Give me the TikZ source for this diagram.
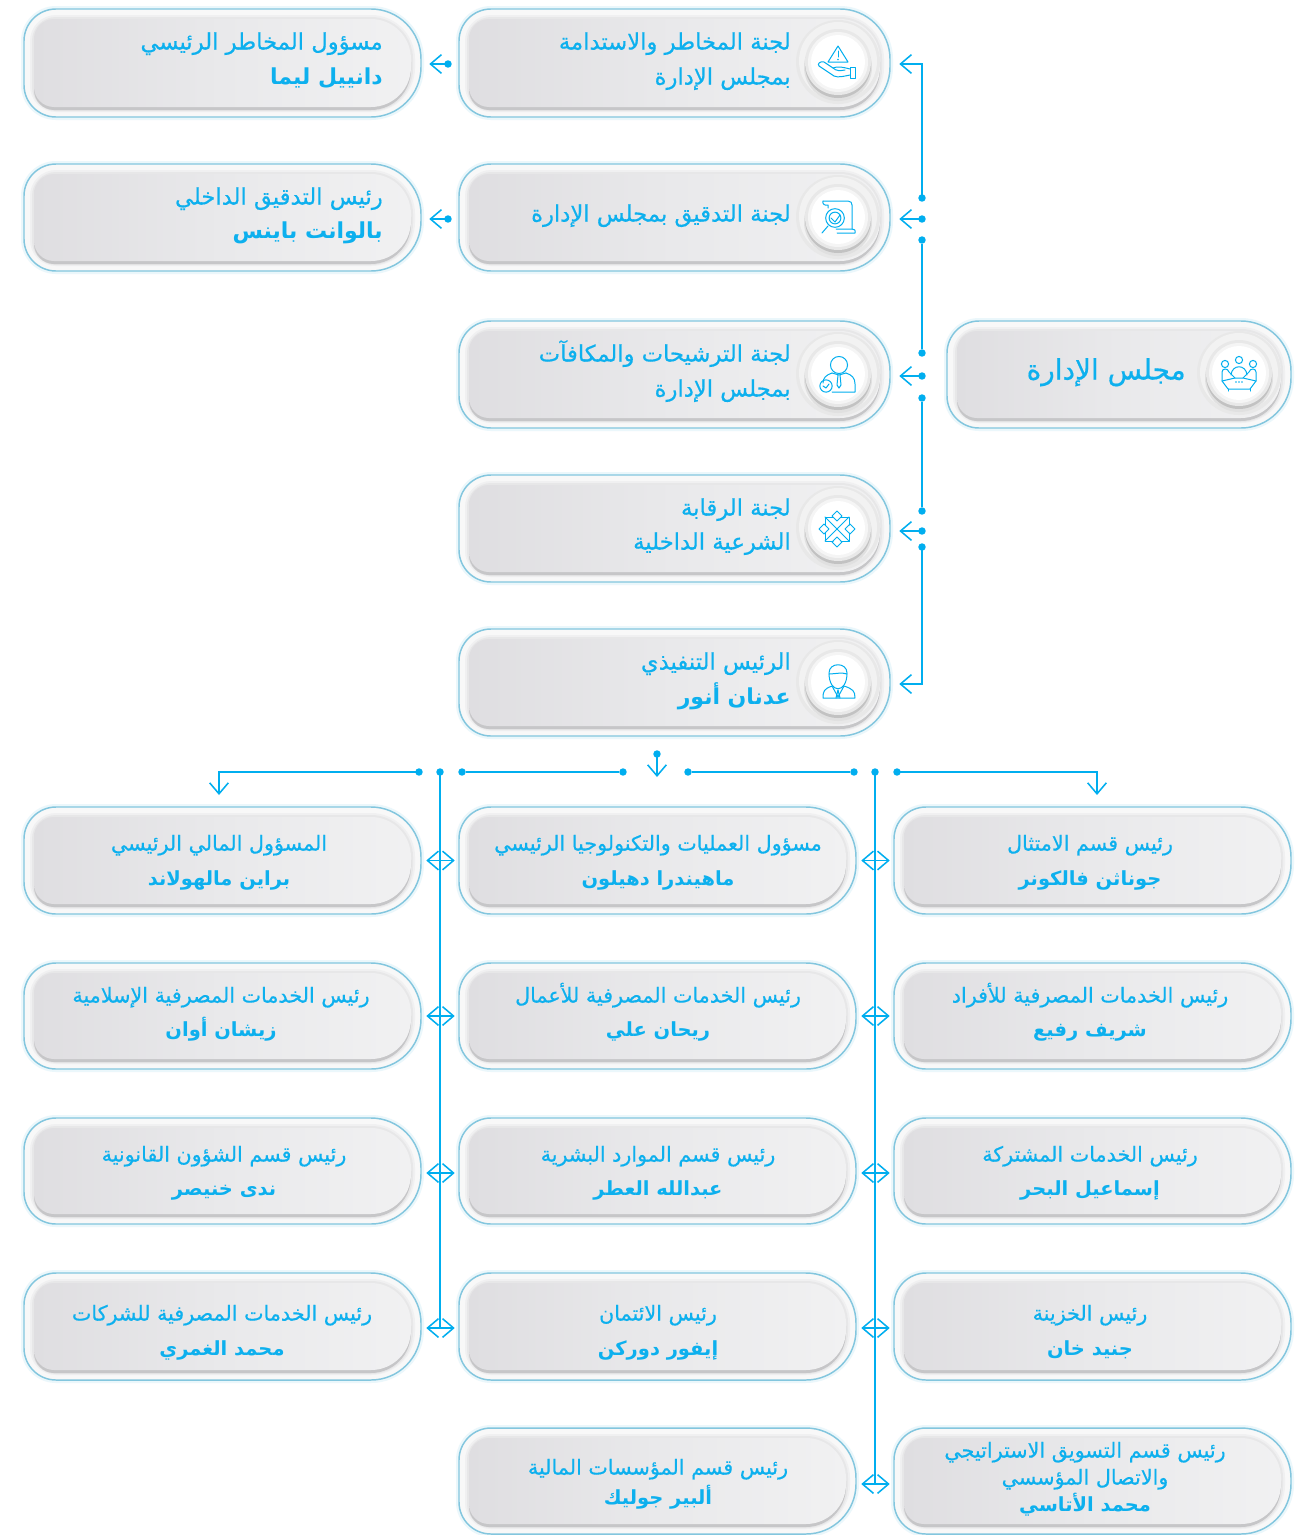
\documentclass[tikz,border=0pt]{standalone}
\usepackage{fontspec}
\usetikzlibrary{arrows.meta,calc}
\TeXXeTstate=1
\newfontfamily\arfont[Script=Arabic,FakeBold=0.5]{DejaVu Sans}
\newfontfamily\arbold[Script=Arabic]{DejaVu Sans Bold}
\definecolor{linec}{HTML}{00AEEF}
\definecolor{textc}{HTML}{0DB0EE}
\definecolor{edgec}{HTML}{83C6DE}
\definecolor{haloc}{HTML}{EBF7FB}
\definecolor{shellc}{HTML}{F8F8F8}
\definecolor{softA}{HTML}{F0F0F1}
\definecolor{softB}{HTML}{E7E7E8}
\definecolor{shadec}{HTML}{C6C6C8}
\definecolor{fillL}{HTML}{DFDEE1}
\definecolor{fillM}{HTML}{E9E9EB}
\definecolor{fillR}{HTML}{F1F1F2}
\tikzset{
  conn/.style={draw=linec,line width=1.25pt},
  tipped/.style={conn,-{Straight Barb[length=8.25pt,width=14pt,line width=1.15pt]}},
  both/.style={conn,{Straight Barb[length=8.25pt,width=14pt,line width=1.15pt]}-{Straight Barb[length=8.25pt,width=14pt,line width=1.15pt]}},
  dotn/.style={circle,fill=linec,inner sep=0pt,minimum size=5.6pt},
  lbl/.style={text=textc,inner sep=0pt,font=\arfont\fontsize{#1}{#1}\selectfont},
  lblb/.style={text=textc,inner sep=0pt,font=\arbold\fontsize{#1}{#1}\selectfont},
  ico/.style={draw=linec,line width=.75pt,line join=round,line cap=round},
  halo/.style={draw=haloc,line width=4.5pt},
  shell/.style={draw=edgec,line width=1.1pt,fill=shellc},
  softa/.style={fill=softA},
  softb/.style={fill=softB},
  shadel/.style={fill=shadec},
  face/.style={left color=fillL,right color=fillR,middle color=fillM},
}
% rounded card outline: x1,y1,x2,y2, left radius, right radius, style
\newcommand{\rrfill}[7]{\path[#7] ({#1+#5},{#2}) -- ({#3-#6},{#2})
  .. controls ({#3-.45*#6},{#2}) and ({#3},{#2+.45*#6}) .. ({#3},{#2+#6})
  -- ({#3},{#4-#6})
  .. controls ({#3},{#4-.45*#6}) and ({#3-.45*#6},{#4}) .. ({#3-#6},{#4})
  -- ({#1+#5},{#4})
  .. controls ({#1+.45*#5},{#4}) and ({#1},{#4-.45*#5}) .. ({#1},{#4-#5})
  -- ({#1},{#2+#5})
  .. controls ({#1},{#2+.45*#5}) and ({#1+.45*#5},{#2}) .. ({#1+#5},{#2}) -- cycle;}
\newcommand{\card}[5]{%
  \node[inner sep=0pt,minimum width={(#4-#2)*.75pt},minimum height={(#5-#3)*.75pt}] (#1) at ({(#2+#4)/2},{(#3+#5)/2}) {};
  \rrfill{#2}{#3}{#4}{#5}{32}{50}{halo}
  \rrfill{#2}{#3}{#4}{#5}{32}{50}{shell}
  \rrfill{#2+6}{#3+6}{#4-6}{#5-5}{26}{44}{softa}
  \rrfill{#2+8}{#3+8}{#4-8}{#5-6}{24}{42}{softb}
  \rrfill{#2+10}{#3+13}{#4-10}{#5-7}{20}{40}{shadel}
  \rrfill{#2+10}{#3+10}{#4-10}{#5-10}{20}{40}{face}
}
\newcommand{\disc}[3]{%
  \fill[black!9] (#2,#3) circle[radius=42*.75pt];
  \fill[black!5] (#2,{#3-1}) circle[radius=39*.75pt];
  \fill[black!12] (#2,{#3+5}) circle[radius=34*.75pt];
  \fill[black!24] (#2,{#3+3}) circle[radius=33*.75pt];
  \node[circle,inner sep=0pt,minimum size={66*.75pt},fill=black!9] (#1) at (#2,#3) {};
  \fill[black!4] (#2,#3) circle[radius=30*.75pt];
  \fill[white] (#2,#3) circle[radius=27*.75pt];
}
\newcommand{\rt}[6]{\node[#4,anchor=#3] (#1) at (#5,{#6+7.5}) {#2};}
\begin{document}
\begin{tikzpicture}[x=.75pt,y=-.75pt]
\useasboundingbox (0,0) rectangle (1306,1535);
\fill[white] (0,0) rectangle (1306,1535);
% ---------- cards
\card{risk}{459}{9}{890}{117}
\card{audit}{459}{164}{890}{271}
\card{nomin}{459}{321}{890}{428}
\card{shar}{459}{475}{890}{582}
\card{ceo}{459}{629}{890}{736}
\card{board}{947}{321}{1291}{428}
\card{cro}{24}{9}{421}{117}
\card{iaud}{24}{164}{421}{271}
\card{cfo}{24}{807}{421}{914}
\card{coo}{459}{807}{856}{914}
\card{comp}{894}{807}{1291}{914}
\card{isl}{24}{963}{421}{1069}
\card{bus}{459}{963}{856}{1069}
\card{ret}{894}{963}{1291}{1069}
\card{leg}{24}{1118}{421}{1224}
\card{hr}{459}{1118}{856}{1224}
\card{shs}{894}{1118}{1291}{1224}
\card{corp}{24}{1273}{421}{1380}
\card{cred}{459}{1273}{856}{1380}
\card{tre}{894}{1273}{1291}{1380}
\card{fin}{459}{1428}{856}{1534}
\card{mkt}{894}{1428}{1291}{1534}
% ---------- discs
\disc{d1}{838}{62}\disc{d2}{838}{217}\disc{d3}{838}{374}\disc{d4}{838}{528}\disc{d5}{838}{682}\disc{d6}{1239}{373}
% ---------- icons
% hand + warning
\draw[ico] (838,46) -- (828,62) -- (848,62) -- cycle;
\draw[ico] (838,51) -- (838,57); \fill[linec] (838,59.5) circle[radius=.7pt];
\draw[ico] (850,67) -- (855,67) -- (855,78) -- (850,78) -- cycle;
\draw[ico] (850,69) .. controls (842,67) and (838,66) .. (833,68) -- (824,62) .. controls (820,61) and (817,64) .. (819,66) -- (834,76) .. controls (838,78) and (845,76) .. (850,75);
\draw[ico] (833,68) .. controls (836,71) and (840,71) .. (845,70);
% scroll + magnifier
\draw[ico] (823,201) -- (848,201) .. controls (851,201) and (852,203) .. (852,205) -- (852,229);
\draw[ico] (823,201) .. controls (822,204) and (825,206) .. (828,205) -- (828,208);
\draw[ico] (837,233) -- (855,233) .. controls (856,230) and (854,229) .. (852,229) -- (836,229);
\draw[ico] (835,218) circle[radius=7pt]; \draw[ico] (835,218) circle[radius=4.4pt];
\draw[ico] (831,218) -- (835,222) -- (840,215);
\draw[ico] (828,226) -- (822,233);
% person + clock
\draw[ico] (839,365) circle[radius=6.4pt];
\draw[ico] (832,373) .. controls (826,375) and (823,378) .. (823,383);
\draw[ico] (846,373) .. controls (852,375) and (855,378) .. (855,384) -- (855,392) -- (832,392);
\draw[ico] (832,373) -- (839,375) -- (846,373);
\draw[ico] (838,375) -- (837,385) -- (839,388) -- (841,385) -- (840,375);
\draw[ico] (826,386) circle[radius=4.6pt]; \draw[ico] (823,386) -- (826,388) -- (829,384);
% eight-fold star
\foreach \a in {0,90,180,270}{
  \draw[ico,rotate around={\a:(837,529)}] (837,511) -- (842,516) -- (837,521) -- (832,516) -- cycle;
  \draw[ico,rotate around={\a:(837,529)}] (841,517) -- (849,517) -- (849,525);
  \draw[ico,rotate around={\a:(837,529)}] (837,529) -- (849,517);
}
% executive
\draw[ico] (829,673) .. controls (829,694) and (847,694) .. (847,673) .. controls (847,662) and (829,662) .. (829,673) -- cycle;
\draw[ico] (829,674) .. controls (834,674) and (842,672) .. (847,674);
\draw[ico] (823,698) -- (855,698) .. controls (855,691) and (853,689) .. (844,686) -- (838,697) -- (832,686) .. controls (824,689) and (823,691) .. (823,698) -- cycle;
\draw[ico] (838,690) -- (836,698); \draw[ico] (838,690) -- (840,698);
% board meeting
\draw[ico] (1225,364) circle[radius=2.7pt]; \draw[ico] (1239,360) circle[radius=2.7pt]; \draw[ico] (1253,364) circle[radius=2.7pt];
\draw[ico] (1222,381) -- (1222,372) .. controls (1222,368) and (1228,368) .. (1229,372) -- (1235,378);
\draw[ico] (1256,381) -- (1256,372) .. controls (1256,368) and (1250,368) .. (1249,372) -- (1243,378);
\draw[ico] (1231,375) .. controls (1232,364) and (1246,364) .. (1247,375);
\draw[ico] (1222,381) -- (1228,389) -- (1250,389) -- (1256,381) -- (1243,378) -- (1235,378) -- cycle;
\draw[ico] (1228,389) -- (1228,391); \draw[ico] (1250,389) -- (1250,391);
\fill[linec] (1236,382) circle[radius=.7pt] (1239,382) circle[radius=.7pt] (1242,382) circle[radius=.7pt];
% ---------- texts
\rt{t1}{\beginR لجنة المخاطر والاستدامة\endR}{base east}{lbl=17pt}{791}{42}
\rt{t1b}{\beginR بمجلس الإدارة\endR}{base east}{lbl=17pt}{791}{77}
\rt{t2}{\beginR لجنة التدقيق بمجلس الإدارة\endR}{base east}{lbl=17pt}{791}{214}
\rt{t3}{\beginR لجنة الترشيحات والمكافآت\endR}{base east}{lbl=17pt}{791}{354}
\rt{t3b}{\beginR بمجلس الإدارة\endR}{base east}{lbl=17pt}{791}{389}
\rt{t4}{\beginR لجنة الرقابة\endR}{base east}{lbl=17pt}{791}{508}
\rt{t4b}{\beginR الشرعية الداخلية\endR}{base east}{lbl=17pt}{791}{542}
\rt{t5}{\beginR الرئيس التنفيذي\endR}{base east}{lbl=17pt}{791}{662}
\rt{t5b}{\beginR عدنان أنور\endR}{base east}{lblb=16.5pt}{791}{697}
\rt{t6}{\beginR مجلس الإدارة\endR}{base east}{lbl=21pt}{1186}{372}
\rt{t7}{\beginR مسؤول المخاطر الرئيسي\endR}{base east}{lbl=17pt}{383}{42}
\rt{t7b}{\beginR دانييل ليما\endR}{base east}{lblb=16.5pt}{383}{77}
\rt{t8}{\beginR رئيس التدقيق الداخلي\endR}{base east}{lbl=17pt}{383}{197}
\rt{t8b}{\beginR بالوانت باينس\endR}{base east}{lblb=16.5pt}{383}{231}
\rt{a1}{\beginR المسؤول المالي الرئيسي\endR}{base}{lbl=15.5pt}{219}{843}
\rt{a1b}{\beginR براين مالهولاند\endR}{base}{lblb=14.6pt}{219}{878}
\rt{b1}{\beginR مسؤول العمليات والتكنولوجيا الرئيسي\endR}{base}{lbl=15.5pt}{658}{843}
\rt{b1b}{\beginR ماهيندرا دهيلون\endR}{base}{lblb=14.6pt}{658}{878}
\rt{c1}{\beginR رئيس قسم الامتثال\endR}{base}{lbl=15.5pt}{1090}{843}
\rt{c1b}{\beginR جوناثن فالكونر\endR}{base}{lblb=14.6pt}{1090}{878}
\rt{a2}{\beginR رئيس الخدمات المصرفية الإسلامية\endR}{base}{lbl=15.5pt}{221}{995}
\rt{a2b}{\beginR زيشان أوان\endR}{base}{lblb=14.6pt}{221}{1029}
\rt{b2}{\beginR رئيس الخدمات المصرفية للأعمال\endR}{base}{lbl=15.5pt}{658}{995}
\rt{b2b}{\beginR ريحان علي\endR}{base}{lblb=14.6pt}{658}{1029}
\rt{c2}{\beginR رئيس الخدمات المصرفية للأفراد\endR}{base}{lbl=15.5pt}{1090}{995}
\rt{c2b}{\beginR شريف رفيع\endR}{base}{lblb=14.6pt}{1090}{1029}
\rt{a3}{\beginR رئيس قسم الشؤون القانونية\endR}{base}{lbl=15.5pt}{224}{1154}
\rt{a3b}{\beginR ندى خنيصر\endR}{base}{lblb=14.6pt}{224}{1188}
\rt{b3}{\beginR رئيس قسم الموارد البشرية\endR}{base}{lbl=15.5pt}{658}{1154}
\rt{b3b}{\beginR عبدالله العطر\endR}{base}{lblb=14.6pt}{658}{1188}
\rt{c3}{\beginR رئيس الخدمات المشتركة\endR}{base}{lbl=15.5pt}{1090}{1154}
\rt{c3b}{\beginR إسماعيل البحر\endR}{base}{lblb=14.6pt}{1090}{1188}
\rt{a4}{\beginR رئيس الخدمات المصرفية للشركات\endR}{base}{lbl=15.5pt}{222}{1313}
\rt{a4b}{\beginR محمد الغمري\endR}{base}{lblb=14.6pt}{222}{1348}
\rt{b4}{\beginR رئيس الائتمان\endR}{base}{lbl=15.5pt}{658}{1313}
\rt{b4b}{\beginR إيفور دوركن\endR}{base}{lblb=14.6pt}{658}{1348}
\rt{c4}{\beginR رئيس الخزينة\endR}{base}{lbl=15.5pt}{1090}{1313}
\rt{c4b}{\beginR جنيد خان\endR}{base}{lblb=14.6pt}{1090}{1348}
\rt{b5}{\beginR رئيس قسم المؤسسات المالية\endR}{base}{lbl=15.5pt}{658}{1467}
\rt{b5b}{\beginR ألبير جوليك\endR}{base}{lblb=14.6pt}{658}{1497}
\rt{c5}{\beginR رئيس قسم التسويق الاستراتيجي\endR}{base}{lbl=15.5pt}{1085}{1450}
\rt{c5a}{\beginR والاتصال المؤسسي\endR}{base}{lbl=15.5pt}{1085}{1477}
\rt{c5b}{\beginR محمد الأتاسي\endR}{base}{lblb=14.6pt}{1085}{1504}
% ---------- right trunk connectors
\coordinate (kA) at (922,64);
\coordinate (kE) at (922,684);
\node[dotn] (p1) at (922,198) {};
\node[dotn] (p2) at (922,219) {};
\node[dotn] (p3) at (922,240) {};
\node[dotn] (p4) at (922,353) {};
\node[dotn] (p5) at (922,376) {};
\node[dotn] (p6) at (922,398) {};
\node[dotn] (p7) at (922,511) {};
\node[dotn] (p8) at (922,531) {};
\node[dotn] (p9) at (922,547) {};
\path[tipped,shorten >=6.75pt] (p1.center) -- (kA) -- (kA -| risk.east);
\path[tipped,shorten >=6.75pt] (p2.center) -- (p2 -| audit.east);
\path[conn] (p3) -- (p4);
\path[tipped,shorten >=6.75pt] (p5.center) -- (p5 -| nomin.east);
\path[conn] (p6) -- (p7);
\path[tipped,shorten >=6.75pt] (p8.center) -- (p8 -| shar.east);
\path[tipped,shorten >=6.75pt] (p9.center) -- (kE) -- (kE -| ceo.east);
% ---------- left small connectors
\node[dotn] (q1) at (448,64) {};
\node[dotn] (q2) at (448,219) {};
\path[tipped,shorten >=6pt] (q1.center) -- (q1 -| cro.east);
\path[tipped,shorten >=6pt] (q2.center) -- (q2 -| iaud.east);
% ---------- lower distribution
\node[dotn] (s0) at (657,754) {};
\coordinate (s0e) at (657,777);
\path[tipped] (s0.center) -- (s0e);
\node[dotn] (h1) at (419,772) {};
\node[dotn] (h2) at (462,772) {};
\node[dotn] (h3) at (623,772) {};
\node[dotn] (h4) at (688,772) {};
\node[dotn] (h5) at (854,772) {};
\node[dotn] (h6) at (897,772) {};
\node[dotn] (v1) at (440,772) {};
\node[dotn] (v2) at (875,772) {};
\coordinate (cL) at (219,772); \coordinate (cLe) at (219,795);
\coordinate (cR) at (1097,772); \coordinate (cRe) at (1097,795);
\coordinate (v1e) at (440,1328);
\coordinate (v2e) at (875,1484);
\path[tipped] (h1.center) -- (cL) -- (cLe);
\path[conn] (h2) -- (h3);
\path[conn] (h4) -- (h5);
\path[tipped] (h6.center) -- (cR) -- (cRe);
\path[conn] (v1.center) -- (v1e);
\path[conn] (v2.center) -- (v2e);
% ---------- double arrows
\foreach \l/\r/\dy in {cfo/coo/0,isl/bus/0,leg/hr/2,corp/cred/1.5}{
  \path[both,shorten <=3.75pt,shorten >=3pt] ([yshift=-\dy*.75pt]\l.east) -- ([yshift=-\dy*.75pt]\r.west);
}
\foreach \l/\r/\dy in {coo/comp/0,bus/ret/0,hr/shs/2,cred/tre/1.5,fin/mkt/3}{
  \path[both,shorten <=3.75pt,shorten >=3pt] ([yshift=-\dy*.75pt]\l.east) -- ([yshift=-\dy*.75pt]\r.west);
}
\end{tikzpicture}
\end{document}
